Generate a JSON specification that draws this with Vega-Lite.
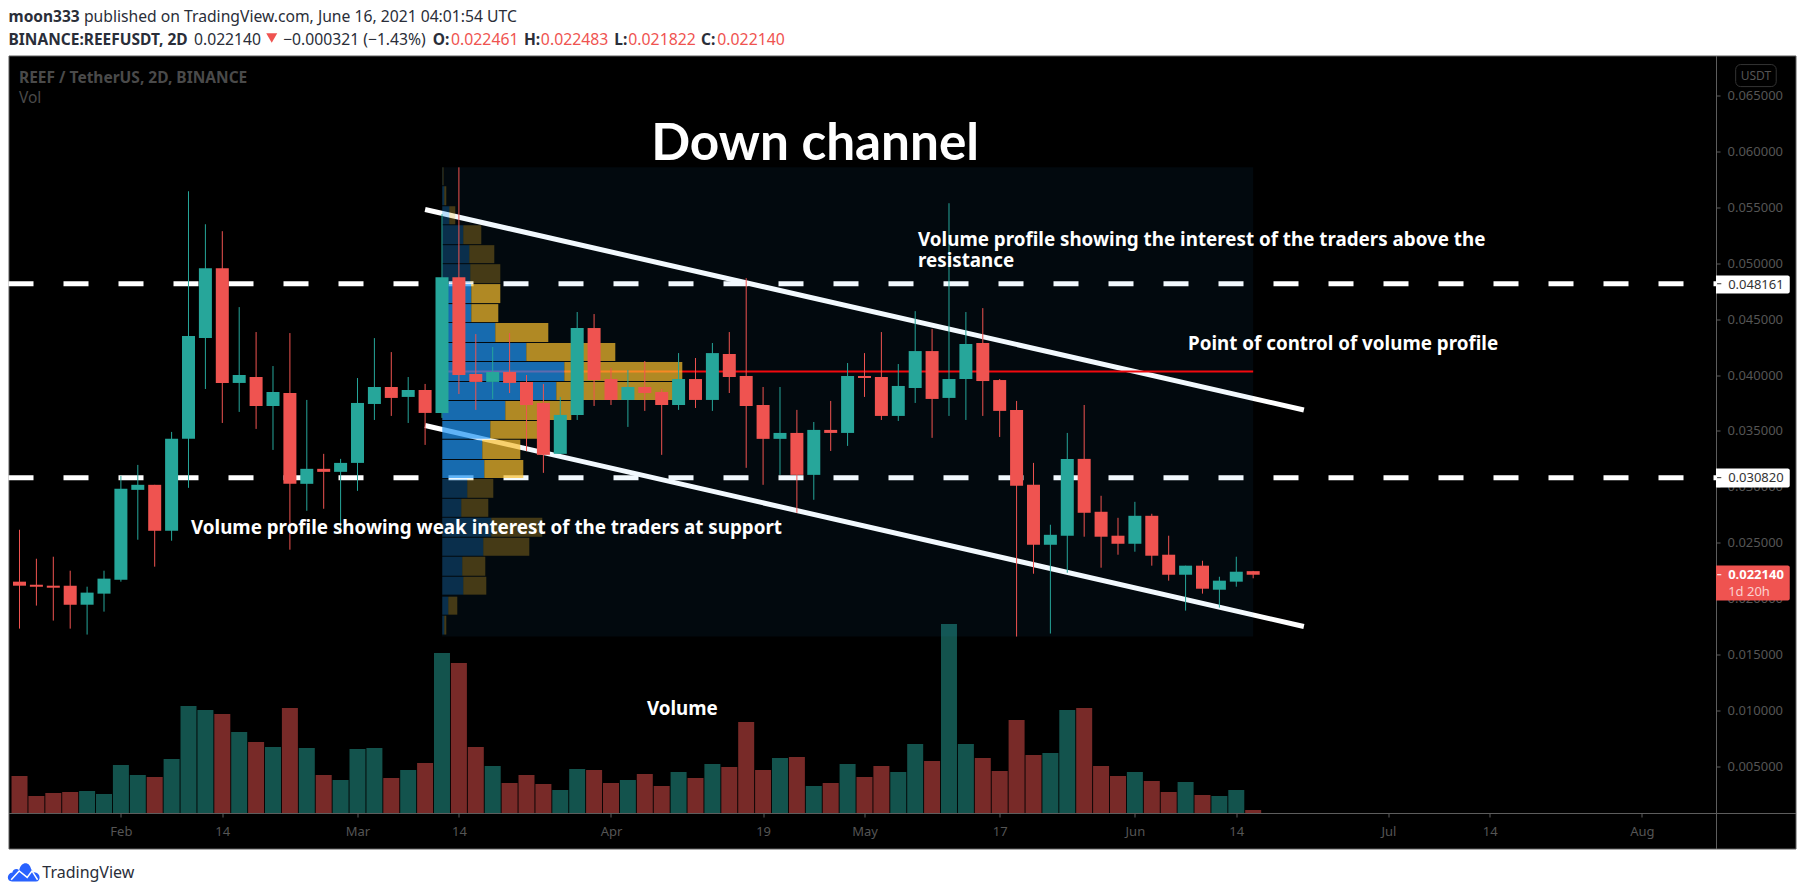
{
  "$schema": "https://vega.github.io/schema/vega-lite/v6.json",
  "width": 1787,
  "height": 793,
  "autosize": "none",
  "padding": {"left": 8.5, "top": 55.5, "right": 9.5, "bottom": 46.5},
  "background": "#ffffff",
  "view": {"fill": "#000000", "stroke": "#5d5d5d"},
  "config": {"font": "Noto Sans"},
  "datasets": {
    "bars": [
      {"date":"2021-01-21","open":0.02152,"high":0.02616,"low":0.01732,"close":0.02116,"volume":74},
      {"date":"2021-01-23","open":0.02125,"high":0.02357,"low":0.01938,"close":0.02107,"volume":34},
      {"date":"2021-01-25","open":0.02116,"high":0.02375,"low":0.01804,"close":0.02098,"volume":40},
      {"date":"2021-01-27","open":0.02116,"high":0.0225,"low":0.01732,"close":0.01946,"volume":42},
      {"date":"2021-01-29","open":0.01946,"high":0.02107,"low":0.01679,"close":0.02054,"volume":44},
      {"date":"2021-01-31","open":0.02045,"high":0.0225,"low":0.01884,"close":0.02179,"volume":38},
      {"date":"2021-02-02","open":0.0217,"high":0.03098,"low":0.02152,"close":0.02982,"volume":96},
      {"date":"2021-02-04","open":0.02973,"high":0.03196,"low":0.02527,"close":0.03018,"volume":76},
      {"date":"2021-02-06","open":0.03018,"high":0.03018,"low":0.02286,"close":0.02607,"volume":72},
      {"date":"2021-02-08","open":0.02607,"high":0.03491,"low":0.02518,"close":0.03429,"volume":108},
      {"date":"2021-02-10","open":0.03429,"high":0.05643,"low":0.02991,"close":0.04348,"volume":214},
      {"date":"2021-02-12","open":0.0433,"high":0.05348,"low":0.03875,"close":0.04955,"volume":206},
      {"date":"2021-02-14","open":0.04955,"high":0.05286,"low":0.03571,"close":0.03929,"volume":198},
      {"date":"2021-02-16","open":0.03929,"high":0.04607,"low":0.0367,"close":0.04,"volume":162},
      {"date":"2021-02-18","open":0.03982,"high":0.04384,"low":0.03518,"close":0.03723,"volume":142},
      {"date":"2021-02-20","open":0.03723,"high":0.0408,"low":0.0333,"close":0.03848,"volume":132},
      {"date":"2021-02-22","open":0.03839,"high":0.04375,"low":0.02438,"close":0.03027,"volume":210},
      {"date":"2021-02-24","open":0.03027,"high":0.03777,"low":0.02786,"close":0.03161,"volume":130},
      {"date":"2021-02-26","open":0.03161,"high":0.03295,"low":0.02804,"close":0.03134,"volume":76},
      {"date":"2021-02-28","open":0.03134,"high":0.0325,"low":0.0258,"close":0.03214,"volume":66},
      {"date":"2021-03-02","open":0.03214,"high":0.03973,"low":0.02964,"close":0.0375,"volume":128},
      {"date":"2021-03-04","open":0.03741,"high":0.0433,"low":0.03598,"close":0.03893,"volume":130},
      {"date":"2021-03-06","open":0.03893,"high":0.04205,"low":0.03634,"close":0.03795,"volume":70},
      {"date":"2021-03-08","open":0.03804,"high":0.03982,"low":0.03571,"close":0.03866,"volume":86},
      {"date":"2021-03-10","open":0.03866,"high":0.0392,"low":0.03375,"close":0.03661,"volume":100},
      {"date":"2021-03-12","open":0.03661,"high":0.05438,"low":0.03616,"close":0.04875,"volume":320},
      {"date":"2021-03-14","open":0.04875,"high":0.05857,"low":0.0383,"close":0.04,"volume":300},
      {"date":"2021-03-16","open":0.04009,"high":0.04366,"low":0.03688,"close":0.03938,"volume":132},
      {"date":"2021-03-18","open":0.03938,"high":0.0425,"low":0.03786,"close":0.04027,"volume":94},
      {"date":"2021-03-20","open":0.04027,"high":0.04375,"low":0.03839,"close":0.03929,"volume":60},
      {"date":"2021-03-22","open":0.03938,"high":0.04,"low":0.03321,"close":0.03732,"volume":76},
      {"date":"2021-03-24","open":0.0375,"high":0.0392,"low":0.03125,"close":0.03286,"volume":58},
      {"date":"2021-03-26","open":0.03295,"high":0.03804,"low":0.03295,"close":0.03643,"volume":46},
      {"date":"2021-03-28","open":0.03643,"high":0.04563,"low":0.03598,"close":0.0442,"volume":88},
      {"date":"2021-03-30","open":0.0442,"high":0.04545,"low":0.03723,"close":0.03955,"volume":86},
      {"date":"2021-04-01","open":0.03964,"high":0.04063,"low":0.03732,"close":0.03777,"volume":60},
      {"date":"2021-04-03","open":0.03777,"high":0.04045,"low":0.03536,"close":0.03893,"volume":66},
      {"date":"2021-04-05","open":0.03893,"high":0.04125,"low":0.03679,"close":0.03839,"volume":78},
      {"date":"2021-04-07","open":0.03848,"high":0.03875,"low":0.03286,"close":0.03732,"volume":54},
      {"date":"2021-04-09","open":0.03732,"high":0.04196,"low":0.03688,"close":0.03964,"volume":82},
      {"date":"2021-04-11","open":0.03964,"high":0.04152,"low":0.03705,"close":0.03777,"volume":70},
      {"date":"2021-04-13","open":0.03777,"high":0.04286,"low":0.03679,"close":0.04196,"volume":98},
      {"date":"2021-04-15","open":0.04188,"high":0.04384,"low":0.03839,"close":0.03982,"volume":92},
      {"date":"2021-04-17","open":0.03991,"high":0.04866,"low":0.0317,"close":0.03723,"volume":182},
      {"date":"2021-04-19","open":0.03732,"high":0.03893,"low":0.03018,"close":0.03429,"volume":86},
      {"date":"2021-04-21","open":0.03429,"high":0.03893,"low":0.03107,"close":0.03482,"volume":110},
      {"date":"2021-04-23","open":0.03482,"high":0.03688,"low":0.02768,"close":0.03107,"volume":112},
      {"date":"2021-04-25","open":0.03107,"high":0.0358,"low":0.02884,"close":0.03509,"volume":54},
      {"date":"2021-04-27","open":0.03509,"high":0.03768,"low":0.03321,"close":0.03482,"volume":60},
      {"date":"2021-04-29","open":0.03482,"high":0.04107,"low":0.03366,"close":0.03991,"volume":98},
      {"date":"2021-05-01","open":0.03991,"high":0.04196,"low":0.03804,"close":0.03973,"volume":72},
      {"date":"2021-05-03","open":0.03982,"high":0.04384,"low":0.03598,"close":0.03634,"volume":94},
      {"date":"2021-05-05","open":0.03634,"high":0.04098,"low":0.03589,"close":0.03902,"volume":82},
      {"date":"2021-05-07","open":0.03884,"high":0.04571,"low":0.0375,"close":0.04214,"volume":138},
      {"date":"2021-05-09","open":0.04214,"high":0.04411,"low":0.03438,"close":0.03786,"volume":104},
      {"date":"2021-05-11","open":0.03795,"high":0.05536,"low":0.03634,"close":0.03964,"volume":378},
      {"date":"2021-05-13","open":0.03964,"high":0.04563,"low":0.03598,"close":0.04277,"volume":138},
      {"date":"2021-05-15","open":0.04286,"high":0.04598,"low":0.03634,"close":0.03946,"volume":110},
      {"date":"2021-05-17","open":0.03955,"high":0.03964,"low":0.03446,"close":0.03679,"volume":84},
      {"date":"2021-05-19","open":0.03688,"high":0.03768,"low":0.01661,"close":0.03009,"volume":186},
      {"date":"2021-05-21","open":0.03018,"high":0.03214,"low":0.02223,"close":0.02482,"volume":116},
      {"date":"2021-05-23","open":0.02482,"high":0.02661,"low":0.01688,"close":0.02571,"volume":120},
      {"date":"2021-05-25","open":0.02563,"high":0.03482,"low":0.02232,"close":0.0325,"volume":206},
      {"date":"2021-05-27","open":0.0325,"high":0.03732,"low":0.02554,"close":0.02768,"volume":210},
      {"date":"2021-05-29","open":0.02777,"high":0.0292,"low":0.02277,"close":0.02554,"volume":94},
      {"date":"2021-05-31","open":0.02563,"high":0.02723,"low":0.02393,"close":0.02491,"volume":74},
      {"date":"2021-06-02","open":0.02491,"high":0.02866,"low":0.0242,"close":0.02741,"volume":82},
      {"date":"2021-06-04","open":0.02741,"high":0.02759,"low":0.02295,"close":0.02384,"volume":64},
      {"date":"2021-06-06","open":0.02393,"high":0.02563,"low":0.02161,"close":0.02214,"volume":42},
      {"date":"2021-06-08","open":0.02214,"high":0.02295,"low":0.01893,"close":0.02295,"volume":62},
      {"date":"2021-06-10","open":0.02295,"high":0.02339,"low":0.02045,"close":0.02089,"volume":36},
      {"date":"2021-06-12","open":0.0208,"high":0.02196,"low":0.0192,"close":0.02161,"volume":34},
      {"date":"2021-06-14","open":0.02152,"high":0.02375,"low":0.02107,"close":0.02241,"volume":46},
      {"date":"2021-06-16","open":0.022461,"high":0.022483,"low":0.021822,"close":0.02214,"volume":6}
    ],
    "profile": [
      {"top":0.05857,"bottom":0.05696,"up":0.3,"total":1.2,"valueArea":false},
      {"top":0.05688,"bottom":0.05518,"up":2,"total":4,"valueArea":false},
      {"top":0.05509,"bottom":0.05348,"up":7,"total":13,"valueArea":false},
      {"top":0.05339,"bottom":0.0517,"up":21,"total":39,"valueArea":false},
      {"top":0.05161,"bottom":0.05,"up":27,"total":52,"valueArea":false},
      {"top":0.04991,"bottom":0.04821,"up":28,"total":58,"valueArea":false},
      {"top":0.04813,"bottom":0.04643,"up":29,"total":58,"valueArea":true},
      {"top":0.04634,"bottom":0.04473,"up":29,"total":56,"valueArea":true},
      {"top":0.04464,"bottom":0.04295,"up":53,"total":106,"valueArea":true},
      {"top":0.04286,"bottom":0.04125,"up":84,"total":173,"valueArea":true},
      {"top":0.04116,"bottom":0.03946,"up":122,"total":240,"valueArea":true},
      {"top":0.03938,"bottom":0.03777,"up":114,"total":233,"valueArea":true},
      {"top":0.03768,"bottom":0.03598,"up":63,"total":129,"valueArea":true},
      {"top":0.03589,"bottom":0.03429,"up":48,"total":95,"valueArea":true},
      {"top":0.0342,"bottom":0.0325,"up":40,"total":78,"valueArea":true},
      {"top":0.03241,"bottom":0.0308,"up":42,"total":81,"valueArea":true},
      {"top":0.03071,"bottom":0.02902,"up":25,"total":51,"valueArea":false},
      {"top":0.02893,"bottom":0.02732,"up":19,"total":46,"valueArea":false},
      {"top":0.02723,"bottom":0.02554,"up":49,"total":100,"valueArea":false},
      {"top":0.02545,"bottom":0.02384,"up":41,"total":87,"valueArea":false},
      {"top":0.02375,"bottom":0.02205,"up":20,"total":43,"valueArea":false},
      {"top":0.02196,"bottom":0.02036,"up":21,"total":44,"valueArea":false},
      {"top":0.02018,"bottom":0.01857,"up":6,"total":15,"valueArea":false},
      {"top":0.01848,"bottom":0.01679,"up":2,"total":4,"valueArea":false}
    ]
  },
  "resolve": {"scale": {"x": "independent", "y": "independent"}},
  "layer": [
    {
      "data": {"name": "bars"},
      "mark": {"type": "bar", "size": 16, "opacity": 0.5},
      "encoding": {
        "x": {"field": "date", "type": "temporal", "axis": null,
          "scale": {"type": "utc", "nice": false, "padding": 0, "domain": [{"utc": true, "year": 2021, "month": 1, "date": 19, "hours": 16, "minutes": 45}, {"utc": true, "year": 2021, "month": 8, "date": 19, "hours": 4, "minutes": 20}]}},
        "y": {"field": "volume", "type": "quantitative", "axis": null, "scale": {"domain": [-71, 1515], "nice": false, "zero": false}},
        "y2": {"datum": 0},
        "color": {"condition": {"test": "datum.open < datum.close", "value": "#26a69a"}, "value": "#ef5350"}
      }
    },
    {
      "encoding": {
        "x": {"field": "date", "type": "temporal", "title": null,
          "scale": {"type": "utc", "nice": false, "padding": 0, "domain": [{"utc": true, "year": 2021, "month": 1, "date": 19, "hours": 16, "minutes": 45}, {"utc": true, "year": 2021, "month": 8, "date": 19, "hours": 4, "minutes": 20}]},
          "axis": {"orient": "bottom", "offset": -35.5, "title": null, "grid": false, "tickSize": 4, "labelPadding": 8, "labelAngle": 0, "labelFlush": false, "labelOverlap": false,
            "domainColor": "#5d5d5d", "tickColor": "#5d5d5d", "labelColor": "#555555", "labelFontSize": 13,
            "values": [1612224000000, 1613260800000, 1614643200000, 1615680000000, 1617235200000, 1618790400000, 1619827200000, 1621209600000, 1622592000000, 1623628800000, 1625184000000, 1626220800000, 1627776000000],
            "labelExpr": "utcdate(datum.value) <= 2 ? utcFormat(datum.value, '%b') : utcFormat(datum.value, '%d')"}},
        "y": {"field": "price", "type": "quantitative", "title": null,
          "scale": {"domain": [-0.00234, 0.06857], "nice": false, "zero": false},
          "axis": {"orient": "right", "offset": -79.5, "title": null, "grid": false, "tickSize": 4, "labelPadding": 7, "labelFlush": false, "labelOverlap": false, "format": ".6f",
            "domainColor": "#5d5d5d", "tickColor": "#5d5d5d", "labelColor": "#555555", "labelFontSize": 13,
            "values": [0.005, 0.01, 0.015, 0.02, 0.025, 0.03, 0.035, 0.04, 0.045, 0.05, 0.055, 0.06, 0.065]}}
      },
      "layer": [
        {
          "data": {"values": [
            {"date": "2021-01-19T16:45:00Z", "date2": "2021-08-10T05:00:00Z", "price": 0.048161},
            {"date": "2021-01-19T16:45:00Z", "date2": "2021-08-10T05:00:00Z", "price": 0.03082}
          ], "format": {"parse": {"date2": "date"}}},
          "mark": {"type": "rule", "color": "#ffffff", "strokeWidth": 5, "strokeDash": [25, 30]},
          "encoding": {"x2": {"field": "date2"}}
        },
        {
          "data": {"values": [
            {"line": "upper", "date": "2021-03-10", "price": 0.0548},
            {"line": "upper", "date": "2021-06-22", "price": 0.03687},
            {"line": "lower", "date": "2021-03-10", "price": 0.03548},
            {"line": "lower", "date": "2021-06-22", "price": 0.01751}
          ]},
          "mark": {"type": "line", "color": "#ffffff", "strokeWidth": 5},
          "encoding": {"detail": {"field": "line"}}
        },
        {
          "data": {"values": [{"date": "2021-03-12", "date2": "2021-06-16", "price": 0.04031}], "format": {"parse": {"date2": "date"}}},
          "mark": {"type": "rule", "color": "#ff0000", "strokeWidth": 2},
          "encoding": {"x2": {"field": "date2"}}
        },
        {
          "data": {"values": [{"date": "2021-03-12", "date2": "2021-06-16", "price": 0.05857, "price2": 0.01661}], "format": {"parse": {"date2": "date"}}},
          "mark": {"type": "rect", "color": "#2196f3", "opacity": 0.06},
          "encoding": {"x2": {"field": "date2"}, "y2": {"field": "price2"}}
        }
      ]
    },
    {
      "data": {"name": "profile"},
      "encoding": {
        "y": {"field": "top", "type": "quantitative", "axis": null, "scale": {"domain": [-0.00234, 0.06857], "nice": false, "zero": false}},
        "y2": {"field": "bottom"},
        "opacity": {"condition": {"test": "datum.valueArea", "value": 0.7}, "value": 0.27}
      },
      "layer": [
        {
          "mark": {"type": "rect", "color": "#2196f3"},
          "encoding": {
            "x": {"field": "up", "type": "quantitative", "axis": null, "scale": {"domain": [-433.8, 1353.2], "nice": false, "zero": false}},
            "x2": {"datum": 0}
          }
        },
        {
          "mark": {"type": "rect", "color": "#fbc02d"},
          "encoding": {
            "x": {"field": "total", "type": "quantitative", "axis": null, "scale": {"domain": [-433.8, 1353.2], "nice": false, "zero": false}},
            "x2": {"field": "up"}
          }
        }
      ]
    },
    {
      "encoding": {
        "x": {"field": "date", "type": "temporal", "axis": null,
          "scale": {"type": "utc", "nice": false, "padding": 0, "domain": [{"utc": true, "year": 2021, "month": 1, "date": 19, "hours": 16, "minutes": 45}, {"utc": true, "year": 2021, "month": 8, "date": 19, "hours": 4, "minutes": 20}]}},
        "y": {"field": "price", "type": "quantitative", "axis": null, "scale": {"domain": [-0.00234, 0.06857], "nice": false, "zero": false}}
      },
      "layer": [
        {
          "data": {"name": "bars"},
          "mark": {"type": "rule", "strokeWidth": 1},
          "encoding": {
            "y": {"field": "high", "type": "quantitative", "axis": null, "scale": {"domain": [-0.00234, 0.06857], "nice": false, "zero": false}},
            "y2": {"field": "low"},
            "color": {"condition": {"test": "datum.open < datum.close", "value": "#26a69a"}, "value": "#ef5350"}
          }
        },
        {
          "data": {"name": "bars"},
          "mark": {"type": "bar", "size": 13},
          "encoding": {
            "y": {"field": "open", "type": "quantitative", "axis": null, "scale": {"domain": [-0.00234, 0.06857], "nice": false, "zero": false}},
            "y2": {"field": "close"},
            "color": {"condition": {"test": "datum.open < datum.close", "value": "#26a69a"}, "value": "#ef5350"}
          }
        },
        {
          "data": {"values": [
            {"date": "2021-08-09T18:29:00Z", "date2": "2021-08-18T12:00:00Z", "price": 0.0489, "price2": 0.04729, "fill": "level"},
            {"date": "2021-08-09T18:29:00Z", "date2": "2021-08-18T12:00:00Z", "price": 0.03164, "price2": 0.02994, "fill": "level"},
            {"date": "2021-08-09T18:29:00Z", "date2": "2021-08-18T12:00:00Z", "price": 0.02296, "price2": 0.01983, "fill": "last"}
          ], "format": {"parse": {"date2": "date"}}},
          "mark": {"type": "rect", "cornerRadiusTopRight": 2, "cornerRadiusBottomRight": 2},
          "encoding": {
            "x2": {"field": "date2"}, "y2": {"field": "price2"},
            "color": {"condition": {"test": "datum.fill == 'last'", "value": "#ef5350"}, "value": "#ffffff"}
          }
        },
        {
          "data": {"values": [
            {"date": "2021-08-09T21:36:00Z", "date2": "2021-08-10T09:36:00Z", "price": 0.048161, "fill": "level"},
            {"date": "2021-08-09T21:36:00Z", "date2": "2021-08-10T09:36:00Z", "price": 0.03082, "fill": "level"},
            {"date": "2021-08-09T21:36:00Z", "date2": "2021-08-10T09:36:00Z", "price": 0.02214, "fill": "last"}
          ], "format": {"parse": {"date2": "date"}}},
          "mark": {"type": "rule", "strokeWidth": 1},
          "encoding": {
            "x2": {"field": "date2"},
            "color": {"condition": {"test": "datum.fill == 'last'", "value": "#ffffff"}, "value": "#333333"}
          }
        },
        {
          "data": {"values": [
            {"date": "2021-08-11T05:00:00Z", "price": 0.04809, "label": "0.048161"},
            {"date": "2021-08-11T05:00:00Z", "price": 0.03082, "label": "0.030820"}
          ]},
          "mark": {"type": "text", "align": "left", "baseline": "middle", "fontSize": 13, "color": "#333333"},
          "encoding": {"text": {"field": "label"}}
        },
        {
          "data": {"values": [{"date": "2021-08-11T05:00:00Z", "price": 0.02214, "label": "0.022140"}]},
          "mark": {"type": "text", "align": "left", "baseline": "middle", "fontSize": 13, "fontWeight": "bold", "color": "#ffffff"},
          "encoding": {"text": {"field": "label"}}
        },
        {
          "data": {"values": [{"date": "2021-08-11T05:00:00Z", "price": 0.02064, "label": "1d 20h"}]},
          "mark": {"type": "text", "align": "left", "baseline": "middle", "fontSize": 13, "color": "#fbd0ce"},
          "encoding": {"text": {"field": "label"}}
        },
        {
          "data": {"values": [{"date": "2021-08-12T02:24:00Z", "date2": "2021-08-16T21:36:00Z", "price": 0.06776, "price2": 0.06579}], "format": {"parse": {"date2": "date"}}},
          "mark": {"type": "rect", "fillOpacity": 0, "stroke": "#333333", "strokeWidth": 1, "cornerRadius": 5},
          "encoding": {"x2": {"field": "date2"}, "y2": {"field": "price2"}}
        },
        {
          "data": {"values": [{"date": "2021-08-14T12:00:00Z", "price": 0.06678, "label": "USDT"}]},
          "mark": {"type": "text", "align": "center", "baseline": "middle", "fontSize": 12, "color": "#555555"},
          "encoding": {"text": {"field": "label"}}
        },
        {
          "data": {"values": [{"date": "2021-01-20T22:34:00Z", "price": 0.0666, "label": "REEF / TetherUS, 2D, BINANCE"}]},
          "mark": {"type": "text", "align": "left", "baseline": "middle", "fontSize": 15.5, "fontWeight": "bold", "color": "#4a4a4a"},
          "encoding": {"text": {"field": "label"}}
        },
        {
          "data": {"values": [{"date": "2021-01-20T22:34:00Z", "price": 0.06481, "label": "Vol"}]},
          "mark": {"type": "text", "align": "left", "baseline": "middle", "fontSize": 15.5, "color": "#4a4a4a"},
          "encoding": {"text": {"field": "label"}}
        },
        {
          "data": {"values": [{"date": "2021-04-05T18:00:00Z", "price": 0.06061, "label": "Down channel"}]},
          "mark": {"type": "text", "font": "Lato", "align": "left", "baseline": "middle", "fontSize": 51.3, "fontWeight": "bold", "color": "#ffffff"},
          "encoding": {"text": {"field": "label"}}
        },
        {
          "data": {"values": [
            {"date": "2021-05-07T08:00:00Z", "price": 0.05203, "label": "Volume profile showing the interest of the traders above the"},
            {"date": "2021-05-07T08:00:00Z", "price": 0.05015, "label": "resistance"},
            {"date": "2021-06-08T07:00:00Z", "price": 0.04273, "label": "Point of control of volume profile"},
            {"date": "2021-02-10T07:00:00Z", "price": 0.02636, "label": "Volume profile showing weak interest of the traders at support"},
            {"date": "2021-04-05T06:00:00Z", "price": 0.01009, "label": "Volume"}
          ]},
          "mark": {"type": "text", "align": "left", "baseline": "middle", "fontSize": 18.8, "fontWeight": "bold", "color": "#ffffff"},
          "encoding": {"text": {"field": "label"}}
        },
        {
          "data": {"values": [
            {"date": "2021-01-19T16:48:00Z", "price": 0.07197, "label": "moon333"},
            {"date": "2021-01-19T16:48:00Z", "price": 0.07, "label": "BINANCE:REEFUSDT, 2D"},
            {"date": "2021-03-10T21:36:00Z", "price": 0.07, "label": "O:"},
            {"date": "2021-03-21T16:48:00Z", "price": 0.07, "label": "H:"},
            {"date": "2021-04-01T09:20:00Z", "price": 0.07, "label": "L:"},
            {"date": "2021-04-11T15:36:00Z", "price": 0.07, "label": "C:"}
          ]},
          "mark": {"type": "text", "align": "left", "baseline": "middle", "fontSize": 15.5, "fontWeight": "bold", "color": "#2a2e39"},
          "encoding": {"text": {"field": "label"}}
        },
        {
          "data": {"values": [
            {"date": "2021-01-28T15:00:00Z", "price": 0.07197, "label": "published on TradingView.com, June 16, 2021 04:01:54 UTC"},
            {"date": "2021-02-10T15:36:00Z", "price": 0.07, "label": "0.022140"},
            {"date": "2021-02-21T04:48:00Z", "price": 0.07, "label": "−0.000321 (−1.43%)"}
          ]},
          "mark": {"type": "text", "align": "left", "baseline": "middle", "fontSize": 15.7, "color": "#2a2e39"},
          "encoding": {"text": {"field": "label"}}
        },
        {
          "data": {"values": [
            {"date": "2021-03-13T01:40:00Z", "price": 0.07, "label": "0.022461"},
            {"date": "2021-03-23T16:48:00Z", "price": 0.07, "label": "0.022483"},
            {"date": "2021-04-03T01:12:00Z", "price": 0.07, "label": "0.021822"},
            {"date": "2021-04-13T13:55:00Z", "price": 0.07, "label": "0.022140"}
          ]},
          "mark": {"type": "text", "align": "left", "baseline": "middle", "fontSize": 15.8, "color": "#ef5350"},
          "encoding": {"text": {"field": "label"}}
        },
        {
          "data": {"values": [{"date": "2021-02-19T20:24:00Z", "price": 0.07013}]},
          "mark": {"type": "point", "shape": "triangle-down", "filled": true, "size": 121, "opacity": 1, "color": "#ef5350"}
        },
        {
          "data": {"values": [{"date": "2021-01-21T12:43:00Z", "price": -0.00449}]},
          "mark": {"type": "point", "filled": true, "size": 1024, "opacity": 1, "color": "#2962ff",
            "shape": "M-0.75,0.56 C-1.1,0.56 -1.1,0.05 -0.72,0 C-0.72,-0.2 -0.45,-0.3 -0.3,-0.15 C-0.2,-0.7 0.35,-0.75 0.45,-0.2 C0.55,-0.1 0.55,-0.05 0.6,-0.02 C1.05,-0.05 1.1,0.56 0.75,0.56 Z"}
        },
        {
          "data": {"values": [{"date": "2021-01-21T12:43:00Z", "price": -0.00449}]},
          "mark": {"type": "point", "filled": false, "size": 1024, "opacity": 1, "stroke": "#ffffff", "strokeWidth": 1.5,
            "shape": "M-0.8,0.45 L-0.3,-0.1 L0.2,0.3 L0.5,-0.1 L0.85,0.45"}
        },
        {
          "data": {"values": [{"date": "2021-01-23T16:48:00Z", "price": -0.00449, "label": "TradingView"}]},
          "mark": {"type": "text", "align": "left", "baseline": "middle", "fontSize": 16, "color": "#2a2e39"},
          "encoding": {"text": {"field": "label"}}
        }
      ]
    }
  ]
}
